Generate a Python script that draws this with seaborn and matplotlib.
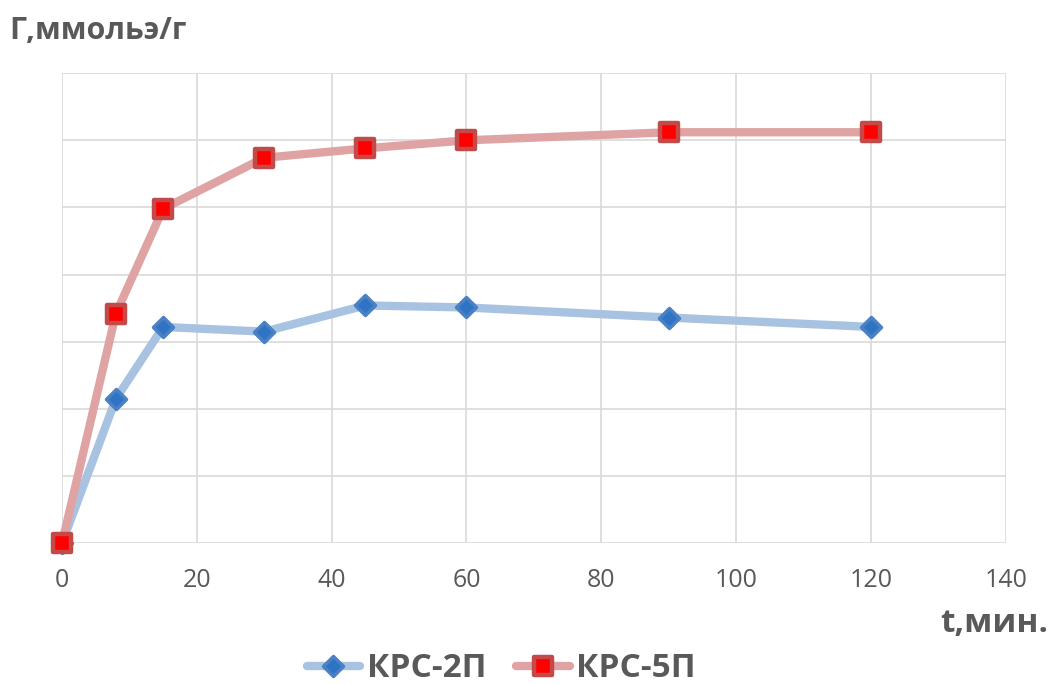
import matplotlib
matplotlib.use("Agg")
import matplotlib.pyplot as plt
from matplotlib.markers import MarkerStyle
import seaborn as sns
import pandas as pd

# Sorption kinetics: time (min) vs exchange capacity
time_min = [0, 8, 15, 30, 45, 60, 90, 120]
krs_2p = [0.0, 2.15, 3.22, 3.15, 3.54, 3.51, 3.36, 3.22]
krs_5p = [0.0, 3.42, 4.98, 5.74, 5.88, 6.00, 6.12, 6.12]
series_names = ["КРС-2П", "КРС-5П"]
x_ticks = [0, 20, 40, 60, 80, 100, 120, 140]

sns.set_theme(style="white")
plt.rcParams["font.family"] = ["Open Sans", "DejaVu Sans"]

fig = plt.figure(figsize=(10.51, 6.84), dpi=100)
ax = fig.add_axes([0.059, 0.206, 0.898, 0.687])

df2 = pd.DataFrame({"t": time_min, "v": krs_2p})
df5 = pd.DataFrame({"t": time_min, "v": krs_5p})

sns.lineplot(data=df2, x="t", y="v", ax=ax, label=series_names[0],
             color="#a8c2e2", linewidth=6,
             marker=MarkerStyle("D", joinstyle="round"), markersize=10.5,
             markerfacecolor="#2f73c4", markeredgecolor="#4a80c4",
             markeredgewidth=2.5, zorder=3, clip_on=False)
sns.lineplot(data=df5, x="t", y="v", ax=ax, label=series_names[1],
             color="#dfa3a3", linewidth=6,
             marker=MarkerStyle("s", joinstyle="round"), markersize=13,
             markerfacecolor="#ff0000", markeredgecolor="#c44a4a",
             markeredgewidth=3.2, zorder=4, clip_on=False)

ax.set_xlim(0, 140)
ax.set_ylim(0, 7)
ax.set_xticks(x_ticks)
ax.set_yticks(range(0, 8))
ax.set_yticklabels([])
ax.tick_params(axis="x", labelsize=18, colors="#595959", length=0, pad=18)
ax.tick_params(axis="y", length=0)
ax.grid(True, color="#d9d9d9", linewidth=1.2)
for s in ax.spines.values():
    s.set_visible(False)
ax.set_xlabel("")
ax.set_ylabel("")

fig.text(0.009, 0.955, "Г,ммольэ/г", fontsize=22, fontweight="bold",
         color="#595959", ha="left", va="center")
fig.text(0.997, 0.088, "t,мин.", fontsize=24, fontweight="bold",
         color="#595959", ha="right", va="center")

leg = ax.legend(loc="center", bbox_to_anchor=(0.477, 0.022),
                bbox_transform=fig.transFigure, ncol=2, frameon=False,
                prop={"size": 24, "weight": "bold"}, handlelength=1.6,
                columnspacing=0.9, handletextpad=0.2)
for t in leg.get_texts():
    t.set_color("#595959")

fig.savefig("out.png", dpi=100)
